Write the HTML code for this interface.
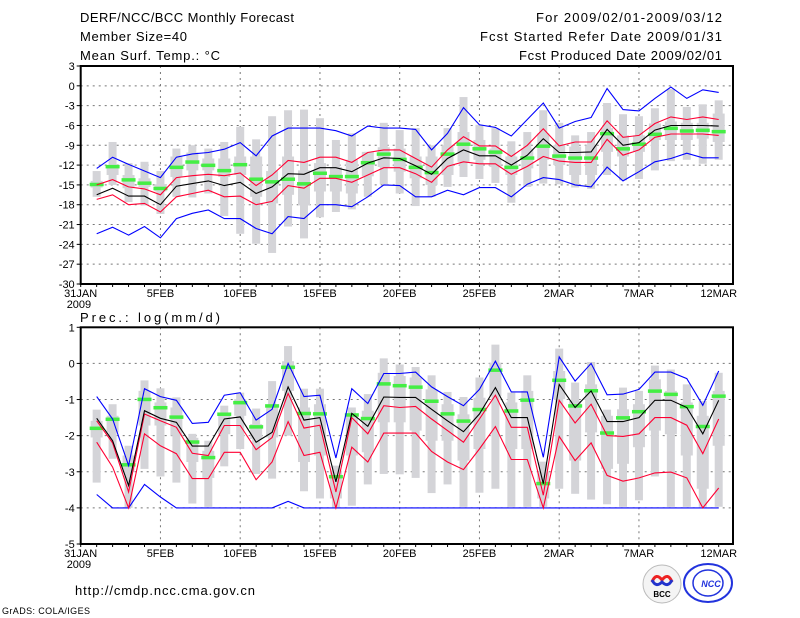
<!DOCTYPE html>
<html><head><meta charset="utf-8"><style>
html,body{margin:0;padding:0;background:#fff;width:800px;height:618px;overflow:hidden}
svg{display:block}
text{font-family:"Liberation Sans",sans-serif;fill:#000}
</style></head><body>
<svg id="chart" width="800" height="618" viewBox="0 0 800 618" xmlns="http://www.w3.org/2000/svg">
<g font-size="13">
<text x="80" y="22" textLength="214">DERF/NCC/BCC Monthly Forecast</text>
<text x="80" y="41" textLength="107">Member Size=40</text>
<text x="80" y="60" textLength="140">Mean Surf. Temp.: °C</text>
<text x="722" y="22" text-anchor="end" textLength="186">For 2009/02/01-2009/03/12</text>
<text x="722" y="41" text-anchor="end" textLength="242">Fcst Started Refer Date 2009/01/31</text>
<text x="722" y="60" text-anchor="end" textLength="203">Fcst Produced Date 2009/02/01</text>
<text x="80" y="322" textLength="140">Prec.: log(mm/d)</text>
<text x="75" y="595" textLength="180">http://cmdp.ncc.cma.gov.cn</text>
<text x="2" y="614" font-size="9" textLength="88">GrADS: COLA/IGES</text>
</g>
<g id="top"></g>
<g id="bot"></g>
<g>
<g>
<circle cx="662" cy="584" r="19" fill="#f4f4f4" stroke="#bbb" stroke-width="1"/>
<path d="M652 582 q4 -10 10 -2 q6 -8 10 2" fill="none" stroke="#e22" stroke-width="3"/>
<path d="M652 580 q4 8 10 2 q6 6 10 -2" fill="none" stroke="#23c" stroke-width="3"/>
<text x="662" y="597" text-anchor="middle" font-size="8" font-weight="bold" font-family="Liberation Serif,serif">BCC</text>
</g>
<g>
<ellipse cx="708" cy="583" rx="24" ry="19" fill="#fff" stroke="#23d" stroke-width="2"/>
<ellipse cx="708" cy="583" rx="15" ry="13" fill="none" stroke="#23d" stroke-width="1.5"/>
<text x="711" y="587" text-anchor="middle" font-size="9" font-weight="bold" font-style="italic" fill="#23d" style="fill:#23d">NCC</text>
</g>
</g>
</svg>
<script>
// ---------- data: temperature panel (days 1..40 = 1FEB..12MAR) ----------
const tMean=[-16.5,-15.5,-16.7,-16.7,-18.0,-15.2,-14.8,-14.4,-15.1,-14.6,-16.3,-15.3,-13.3,-13.4,-12.4,-12.4,-13.0,-11.7,-10.9,-11.0,-12.1,-13.4,-11.0,-9.7,-10.6,-10.6,-12.0,-10.5,-8.0,-10.1,-10.1,-10.0,-6.6,-9.0,-8.6,-6.7,-6.0,-6.0,-6.0,-6.1];
const tRedHi=[-15.0,-14.2,-15.3,-15.6,-16.5,-13.9,-13.6,-13.4,-13.6,-13.2,-15.1,-13.5,-11.3,-11.6,-10.8,-10.8,-11.6,-10.1,-9.7,-9.7,-11.0,-12.3,-9.7,-7.7,-9.1,-9.1,-10.7,-9.0,-6.5,-9.1,-8.5,-8.5,-5.3,-7.8,-7.5,-5.7,-4.7,-5.1,-4.7,-5.1];
const tRedLo=[-17.2,-16.5,-18.0,-17.8,-19.1,-16.8,-16.3,-15.8,-16.8,-16.7,-18.0,-17.5,-15.1,-15.5,-14.0,-14.0,-14.6,-13.5,-12.4,-12.4,-13.3,-14.6,-12.2,-11.5,-11.8,-11.8,-13.4,-12.2,-10.7,-11.4,-11.6,-11.6,-8.1,-10.5,-9.7,-7.8,-7.3,-7.3,-7.3,-7.5];
const tBlueHi=[-12.5,-10.8,-11.9,-12.9,-13.9,-10.8,-10.3,-10.1,-9.6,-8.6,-10.6,-7.6,-6.4,-6.4,-6.4,-6.8,-7.6,-6.1,-6.4,-6.4,-6.6,-9.7,-7.2,-3.3,-5.9,-6.3,-7.6,-5.1,-2.6,-6.4,-5.4,-4.8,-0.4,-3.6,-3.8,-1.9,-0.2,-1.9,-0.6,-1.0];
const tBlueLo=[-22.4,-21.4,-22.6,-21.3,-23.0,-20.1,-19.3,-18.8,-20.1,-20.1,-21.6,-22.4,-19.8,-20.1,-18.0,-18.0,-18.3,-16.8,-15.0,-15.1,-16.8,-16.8,-15.8,-16.5,-15.4,-15.4,-16.8,-14.9,-13.9,-14.2,-15.0,-15.3,-12.3,-14.4,-13.0,-11.5,-11.0,-10.2,-10.9,-10.9];
const tMax=[-12.9,-8.5,-11.7,-11.5,-12.9,-9.5,-9.0,-9.5,-8.5,-6.2,-8.1,-4.6,-3.7,-3.6,-4.9,-8.2,-7.2,-10.0,-5.6,-6.7,-6.4,-9.0,-6.4,-1.7,-5.9,-6.4,-8.4,-7.0,-3.7,-5.6,-7.5,-7.0,-2.6,-4.3,-4.6,-3.4,-0.5,-3.2,-2.8,-2.2];
const tMin=[-16.8,-15.0,-17.6,-18.1,-19.4,-16.8,-16.9,-16.3,-19.7,-22.4,-23.9,-25.3,-21.3,-23.1,-19.9,-19.1,-18.7,-16.8,-14.9,-16.3,-18.2,-16.8,-15.3,-13.8,-14.1,-14.7,-17.7,-15.3,-14.8,-14.9,-15.4,-15.6,-13.5,-14.3,-14.1,-12.8,-11.4,-11.2,-11.8,-11.2];
const tQ3=[-14.4,-12.2,-13.5,-14.0,-14.9,-10.7,-10.1,-11.0,-11.0,-10.7,-10.7,-12.9,-10.7,-12.8,-11.7,-12.3,-11.2,-10.0,-9.3,-9.5,-10.7,-10.7,-9.0,-7.0,-8.2,-9.5,-10.7,-9.5,-7.2,-9.0,-9.2,-9.0,-6.4,-7.5,-7.5,-5.7,-5.4,-5.6,-5.6,-4.2];
const tQ1=[-15.4,-13.5,-15.5,-15.3,-16.0,-13.8,-12.8,-12.8,-13.8,-13.5,-16.8,-17.8,-16.5,-18.1,-16.0,-16.0,-16.3,-13.7,-12.3,-13.0,-14.0,-15.0,-13.5,-11.5,-11.2,-12.3,-13.5,-12.5,-11.2,-12.0,-13.5,-13.5,-10.0,-10.7,-10.0,-8.2,-8.2,-8.2,-8.0,-8.5];
const tMed=[-14.9,-12.2,-14.2,-14.7,-15.5,-12.3,-11.5,-12.0,-12.8,-11.9,-14.1,-14.5,-14.1,-14.8,-13.2,-13.7,-13.7,-11.6,-10.3,-11.1,-12.3,-13.1,-10.3,-8.8,-9.5,-10.0,-12.3,-10.9,-9.1,-10.6,-10.9,-10.9,-7.2,-9.5,-8.8,-7.3,-6.4,-6.8,-6.7,-6.9];
const tTicks=[3,0,-3,-6,-9,-12,-15,-18,-21,-24,-27,-30];
// ---------- data: precipitation panel ----------
const pMean=[-1.52,-2.14,-3.38,-1.31,-1.52,-1.63,-2.29,-2.29,-1.54,-1.48,-2.18,-1.91,-0.65,-1.57,-1.50,-3.28,-1.38,-1.74,-0.93,-0.94,-0.94,-1.27,-1.59,-1.89,-1.40,-0.67,-1.50,-1.50,-3.33,-0.58,-1.22,-0.76,-1.61,-1.61,-1.50,-1.02,-1.02,-1.22,-1.95,-1.02];
const pRedHi=[-1.59,-2.2,-3.56,-1.40,-1.59,-1.77,-2.49,-2.55,-1.72,-1.72,-2.39,-2.05,-0.83,-1.79,-1.71,-3.56,-1.50,-1.95,-1.17,-1.22,-1.19,-1.54,-1.86,-2.18,-1.54,-0.88,-1.77,-1.77,-3.65,-1.02,-1.65,-1.13,-2.0,-2.02,-1.95,-1.50,-1.50,-1.71,-2.50,-1.54];
const pRedLo=[-2.18,-2.87,-4.0,-1.95,-2.28,-2.5,-3.19,-3.19,-2.46,-2.46,-3.22,-2.73,-1.61,-2.55,-2.46,-4.0,-2.32,-2.73,-1.93,-1.93,-1.93,-2.44,-2.73,-2.94,-2.37,-1.75,-2.66,-2.66,-4.0,-2.02,-2.69,-2.2,-3.1,-3.26,-3.17,-3.03,-3.01,-3.17,-4.0,-3.45];
const pBlueHi=[-0.92,-1.54,-2.83,-0.70,-0.92,-1.02,-1.66,-1.63,-0.88,-0.81,-1.57,-1.27,0,-0.92,-0.88,-2.62,-0.70,-1.11,-0.28,-0.28,-0.24,-0.65,-0.92,-1.17,-0.72,0.06,-0.79,-0.79,-2.6,0.18,-0.49,0,-0.87,-0.85,-0.72,-0.24,-0.24,-0.42,-1.16,-0.21];
const pBlueLo=[-3.63,-4,-4,-3.35,-3.7,-4,-4,-4,-4,-4,-4,-4,-3.82,-4,-4,-4,-4,-4,-4,-4,-4,-4,-4,-4,-4,-4,-4,-4,-4,-4,-4,-4,-4,-4,-4,-4,-4,-4,-4,-4];
const pMax=[-1.28,-1.13,-2.28,-0.47,-0.69,-0.94,-1.95,-2.14,-1.17,-0.81,-1.25,-0.49,0.48,-0.70,-0.70,-2.83,-1.22,-0.85,0.14,-0.03,-0.10,-0.33,-0.79,-0.93,-0.39,0.52,-0.81,-0.33,-2.72,0.41,-0.53,0.04,-1.28,-0.67,-0.76,-0.06,-0.17,-0.58,-1.04,-0.26];
const pMin=[-3.30,-2.64,-4.0,-2.92,-3.13,-3.30,-3.88,-3.97,-2.85,-2.37,-3.06,-3.19,-2.0,-3.54,-3.74,-4.0,-3.94,-3.35,-3.06,-3.07,-3.17,-3.59,-3.35,-3.97,-3.58,-3.47,-3.97,-3.97,-3.97,-3.47,-3.61,-3.77,-3.90,-3.97,-3.79,-3.13,-3.97,-3.97,-3.97,-3.97];
const pQ3=[-1.59,-1.45,-2.55,-0.76,-1.08,-1.22,-2.06,-2.42,-1.45,-0.99,-1.68,-1.17,0.06,-1.22,-1.13,-2.97,-1.41,-1.31,-0.26,-0.35,-0.39,-0.72,-1.13,-1.41,-0.95,0.02,-1.08,-0.76,-3.01,-0.21,-1.04,-0.58,-1.45,-1.27,-1.13,-0.44,-0.76,-1.08,-1.45,-0.76];
const pQ1=[-2.05,-1.91,-3.01,-1.72,-1.72,-2.0,-2.73,-3.17,-1.96,-1.45,-2.09,-2.05,-0.76,-2.73,-2.55,-3.74,-2.55,-2.46,-1.63,-1.63,-1.86,-2.14,-2.14,-2.69,-2.37,-0.90,-2.37,-2.37,-3.74,-0.99,-2.69,-1.91,-2.92,-2.78,-2.32,-1.86,-1.96,-2.55,-3.47,-2.28];
const pMed=[-1.79,-1.54,-2.80,-0.99,-1.22,-1.48,-2.17,-2.60,-1.40,-1.08,-1.75,-1.17,-0.10,-1.38,-1.39,-3.13,-1.42,-1.52,-0.56,-0.61,-0.65,-1.04,-1.39,-1.59,-1.27,-0.18,-1.31,-1.01,-3.32,-0.46,-1.17,-0.75,-1.92,-1.50,-1.33,-0.76,-0.85,-1.19,-1.74,-0.90];
const pTicks=[1,0,-1,-2,-3,-4,-5];
const xTickDays=[0,5,10,15,20,25,30,35,40];
const xTickLabels=["31JAN","5FEB","10FEB","15FEB","20FEB","25FEB","2MAR","7MAR","12MAR"];

const NS="http://www.w3.org/2000/svg";
const X0=80.7, DX=15.95, XR=733;
function xs(d){return X0+d*DX;}
function mk(parent,tag,attrs){const e=document.createElementNS(NS,tag);for(const k in attrs)e.setAttribute(k,attrs[k]);parent.appendChild(e);return e;}

function panel(g,top,bottom,vmax,vmin,ticks,series,boxes,panelName){
  const ys=v=>top+(vmax-v)*(bottom-top)/(vmax-vmin);
  // grid
  ticks.forEach(t=>{
    if(t!==vmax&&t!==vmin){
      const l=mk(g,'line',{x1:X0,x2:XR,y1:ys(t),y2:ys(t),stroke:'#777','stroke-width':1,'stroke-dasharray':'2,4'});
      
      
    }
    const tk=mk(g,'line',{x1:X0-4,x2:X0,y1:ys(t),y2:ys(t),stroke:'#000'});
    
    
    const tx=mk(g,'text',{x:X0-6,y:ys(t)+4,'text-anchor':'end','font-size':11});
    tx.textContent=String(t);
    
    
  });
  xTickDays.forEach((d,i)=>{
    if(d>0&&d<40){
      const l=mk(g,'line',{x1:xs(d),x2:xs(d),y1:top,y2:bottom,stroke:'#777','stroke-width':1,'stroke-dasharray':'2,4'});
      
      
    }
    const tx=mk(g,'text',{x:xs(d),y:bottom+13,'text-anchor':'middle','font-size':11});
    tx.textContent=xTickLabels[i];
    
    
  });
  for(let d=0;d<=40;d++){
    const tk=mk(g,'line',{x1:xs(d),x2:xs(d),y1:bottom,y2:bottom+3,stroke:'#000'});
    
    
  }
  const yr=mk(g,'text',{x:X0-14,y:bottom+24,'font-size':11});
  yr.textContent='2009';
  
  
  // boxes
  const [mx,mn,q3,q1,med]=boxes;
  mx.forEach((v,i)=>{
    const x=xs(i+1);
    const r=mk(g,'rect',{x:x-4,y:ys(v),width:8,height:ys(mn[i])-ys(v),fill:'#d4d4d8'});
    
    
    const b=mk(g,'rect',{x:x-6,y:ys(q3[i]),width:12,height:ys(q1[i])-ys(q3[i]),fill:'#d4d4d8'});
    
    
  });
  med.forEach((v,i)=>{
    const x=xs(i+1);
    const m=mk(g,'rect',{x:x-7,y:ys(v)-1.5,width:14,height:3.5,fill:'#44ee44'});
    
    
  });
  series.forEach(([arr,col,name])=>{
    const pts=arr.map((v,i)=>xs(i+1).toFixed(1)+','+ys(v).toFixed(1)).join(' ');
    const p=mk(g,'polyline',{points:pts,fill:'none',stroke:col,'stroke-width':1.1});
    
    
  });
  const fr=mk(g,'rect',{x:X0,y:top,width:XR-X0,height:bottom-top,fill:'none',stroke:'#000','stroke-width':2});
  
  
}
panel(document.getElementById('top'),66,284,3,-30,tTicks,
  [[tBlueHi,'#0000ff','blue-upper-line'],[tBlueLo,'#0000ff','blue-lower-line'],[tRedHi,'#ff0033','red-upper-line'],[tRedLo,'#ff0033','red-lower-line'],[tMean,'#000','ensemble-mean-line']],
  [tMax,tMin,tQ3,tQ1,tMed],'temperature');
panel(document.getElementById('bot'),327.3,544,1,-5,pTicks,
  [[pBlueHi,'#0000ff','blue-upper-line'],[pBlueLo,'#0000ff','blue-lower-line'],[pRedHi,'#ff0033','red-upper-line'],[pRedLo,'#ff0033','red-lower-line'],[pMean,'#000','ensemble-mean-line']],
  [pMax,pMin,pQ3,pQ1,pMed],'precipitation');
</script>
</body></html>
